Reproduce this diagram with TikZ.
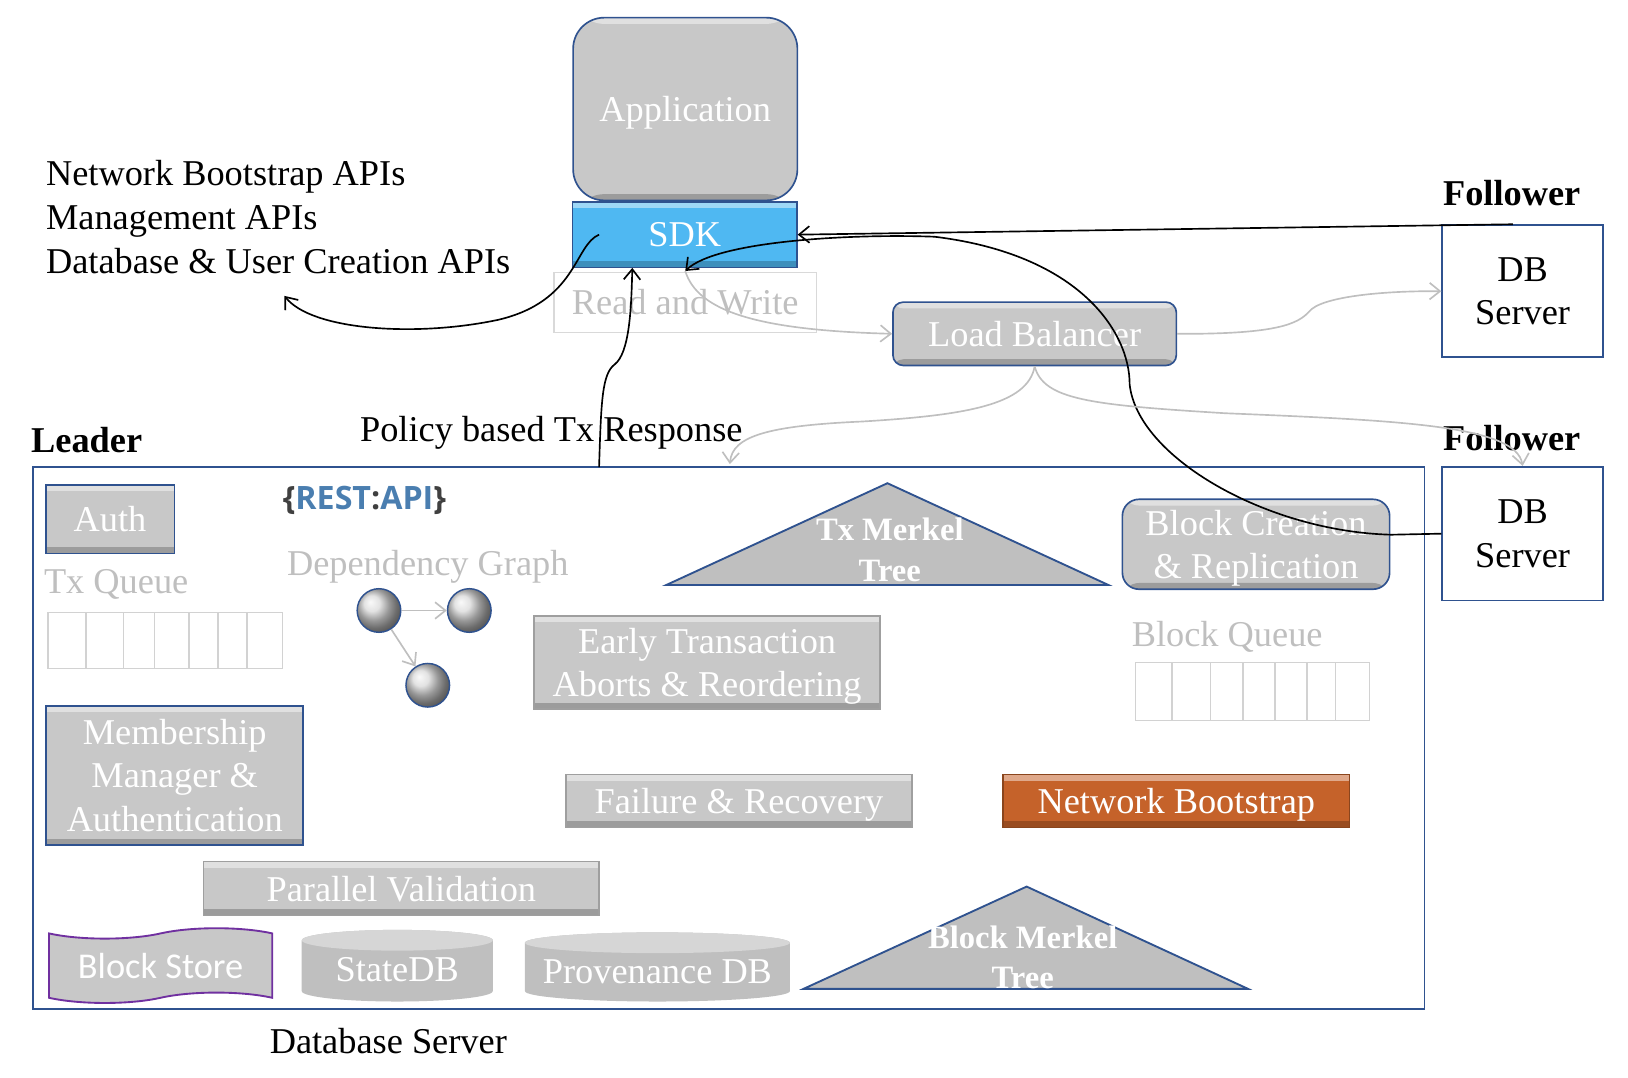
\documentclass[tikz,border=0pt]{standalone}
\usepackage{fontspec}
\setmainfont{Liberation Serif}
\newfontfamily\calfont{Carlito}
\newfontfamily\restfont{Open Sans}
\usepackage{xcolor}
\usepackage{tikz}
\usetikzlibrary{calc}
\usetikzlibrary{arrows.meta}
\usetikzlibrary{shapes}
\usetikzlibrary{shapes.geometric}
\usetikzlibrary{shapes.symbols}

\definecolor{boxgray}{HTML}{C8C8C8}
\definecolor{edgeblue}{HTML}{2F528F}
\definecolor{sdkblue}{HTML}{4FB8F2}
\definecolor{nborange}{HTML}{C5622A}
\definecolor{fadegray}{HTML}{BFBFBF}
\definecolor{storepurple}{HTML}{7030A0}
\definecolor{restblue}{HTML}{4A7EB0}

\begin{document}
\begin{tikzpicture}[x=0.5pt, y=-0.5pt, font=\fontsize{17.5}{21}\selectfont,
  bevel/.style={path picture={
    \fill[white, opacity=0.45] (path picture bounding box.north west) rectangle ([yshift=-3pt]path picture bounding box.north east);
    \fill[black, opacity=0.22] (path picture bounding box.south west) rectangle ([yshift=3pt]path picture bounding box.south east);}},
  graybox/.style={rectangle, bevel, fill=boxgray, draw=gray!75, line width=0.8pt, text=white, align=center, inner sep=0pt, text depth=0pt},
  bluebox/.style={graybox, draw=edgeblue},
  roundbox/.style={bluebox, rounded corners=5pt},
  dbbox/.style={rectangle, draw=edgeblue, line width=0.8pt, align=center, inner sep=0pt},
  heading/.style={font=\fontsize{17.5}{21}\selectfont\bfseries},
  fadetext/.style={text=fadegray},
  queuecell/.style={draw=gray!35, line width=0.7pt},
  link/.style={line width=0.8pt, -{Straight Barb[length=5pt,width=8pt]}},
  fadelink/.style={draw=fadegray, line width=0.8pt, -{Straight Barb[length=5pt,width=8pt]}},
  merkle/.style={fill=fadegray, draw=edgeblue, line width=0.9pt},
  merkletext/.style={text=white, font=\fontsize{15.7}{19.5}\selectfont\bfseries, align=center},
  vertex/.style={circle, shading=ball, ball color=gray!30, draw=edgeblue, line width=0.7pt, minimum size=21pt, inner sep=0pt},
  drumbody/.style={fill=gray!50},
  drumtop/.style={fill=gray!32},
  drumtext/.style={text=white, inner sep=0pt}]
\useasboundingbox (0,0) rectangle (1568,1038);

% client side
\node [roundbox, rounded corners=15pt, minimum width=108pt, minimum height=88pt] (app) at (660,105) {Application};
\node [bluebox, fill=sdkblue, minimum width=108pt, minimum height=31.5pt] (sdk) at (659.5,226) {SDK};
\node [rectangle, draw=gray!30, line width=0.7pt, fadetext, minimum width=126.5pt, minimum height=29pt] (rw) at (660,291.5) {Read and Write};
\node [roundbox, minimum width=136.5pt, minimum height=30.5pt] (lb) at (996.5,321.5) {Load Balancer};
\node [align=left, anchor=west, inner sep=0pt] (apis) at (44,209) {Network Bootstrap APIs\\Management APIs\\Database \& User Creation APIs};

% followers
\node [heading] (fol1) at (1456,186) {Follower};
\node [dbbox, minimum width=77.5pt, minimum height=63.6pt] (db1) at (1466.5,280.5) {DB\\Server};
\node [heading] (fol2) at (1456,422) {Follower};
\node [dbbox, minimum width=77.5pt, minimum height=64.5pt] (db2) at (1466.5,514) {DB\\Server};

% leader
\node [heading] (leader) at (83.5,424) {Leader};
\node (policy) at (531,417) {Policy based Tx Response};
\node [rectangle, draw=edgeblue, line width=0.8pt, minimum width=670pt, minimum height=261pt] (dbs) at (702,711) {};
\node (dbslabel) at (374,1003) {Database Server};

\node [bluebox, minimum width=62pt, minimum height=33pt] (auth) at (106,500) {Auth};
\node [fadetext, anchor=west, inner sep=0pt] (txq) at (42,563) {Tx Queue};
\node [rectangle, queuecell, minimum width=113pt, minimum height=27pt] (txcells) at (159.3,617) {};
\foreach \x in {83,119,149,182,210,238}
  \draw [queuecell] (\x,590) -- (\x,644);

\node [inner sep=0pt, font=\restfont\bfseries\fontsize{15.5}{19}\selectfont] (rest) at (351,481.5) {\textcolor{black!75}{\{}\textcolor{restblue}{REST}\textcolor{black!75}{:}\textcolor{restblue}{API}\textcolor{black!75}{\}}};
\node [fadetext] (depg) at (412,545.7) {Dependency Graph};
\node [vertex] (g1) at (365,588) {};
\node [vertex] (g2) at (452,588) {};
\node [vertex] (g3) at (412,660) {};
\draw [fadelink] (g1) -- (g2);
\draw [fadelink] (g1) -- (g3);

\draw [merkle] (854.7,465.4) -- (1067.5,563.4) -- (641.8,563.4) -- cycle;
\node [merkletext] (txtree) at (857,529.5) {Tx Merkel\\Tree};
\node [roundbox, rounded corners=8pt, minimum width=128.7pt, minimum height=43.3pt] (bcr) at (1209.7,524.2) {Block Creation\\\& Replication};

\node [graybox, minimum width=166.5pt, minimum height=44.9pt] (etar) at (681,638) {Early Transaction\\Aborts \& Reordering};
\node [fadetext, anchor=west, inner sep=0pt] (bq) at (1089.7,613) {Block Queue};
\node [rectangle, queuecell, minimum width=112.7pt, minimum height=28pt] (bqcells) at (1206.2,666) {};
\foreach \x in {1129,1166,1197,1228,1259,1286}
  \draw [queuecell] (\x,638) -- (\x,694);

\node [bluebox, minimum width=123.7pt, minimum height=67pt] (mma) at (168.3,746.7) {Membership\\Manager \&\\Authentication};
\node [graybox, minimum width=166.7pt, minimum height=25.6pt] (fr) at (711.7,771.4) {Failure \& Recovery};
\node [graybox, fill=nborange, draw=nborange!70!black, minimum width=166.7pt, minimum height=25.6pt] (nb) at (1133,771.4) {Network Bootstrap};
\node [graybox, minimum width=190.5pt, minimum height=26pt] (pv) at (386.5,855.8) {Parallel Validation};

% stores
\node [tape, fill=boxgray, draw=storepurple, line width=0.9pt, text=white, font=\calfont\fontsize{17.5}{21}\selectfont, minimum width=107.5pt, minimum height=36pt, inner sep=0pt] (bs) at (154.7,930) {Block Store};
\fill [drumbody] (290.6,905.6) -- (290.6,954.6) arc [start angle=180, end angle=360, x radius=46pt, y radius=5pt] -- (474.7,905.6) arc [start angle=0, end angle=180, x radius=46pt, y radius=5pt] -- cycle;
\fill [drumtop] (382.65,905.6) ellipse [x radius=46pt, y radius=5pt];
\node [drumtext] (sdb) at (382.6,934) {StateDB};
\fill [drumbody] (505.6,908) -- (505.6,954.6) arc [start angle=180, end angle=360, x radius=63.8pt, y radius=5pt] -- (760.8,908) arc [start angle=0, end angle=180, x radius=63.8pt, y radius=5pt] -- cycle;
\fill [drumtop] (633.2,908) ellipse [x radius=63.8pt, y radius=5pt];
\node [drumtext] (pdb) at (633.2,935.7) {Provenance DB};

\draw [merkle] (988.8,853.9) -- (1202,952.4) -- (773.9,952.4) -- cycle;
\node [merkletext] (blocktree) at (985,922) {Block Merkel\\Tree};

% connectors
\coordinate (sdkin) at (577,226);
\coordinate (apiend) at (274,285);
\coordinate (polstart) at (577,450);
\coordinate (sdkbase) at (609,258);
\coordinate (sdkmid) at (660,261);
\coordinate (fol1foot) at (1457,216);
\coordinate (lbleft) at (703,447);

\draw [link] (sdkin) .. controls (553,236) and (556,290) .. (480,308) .. controls (400,325) and (300,318) .. (apiend);
\draw [link] (polstart) .. controls (579,385) and (580,360) .. (592,351) .. controls (606,340) and (608,300) .. (sdkbase);
\draw [link] (fol1foot) -- (sdk.east);
\draw [link] (db2.west) -- (1340,515) .. controls (1220,512) and (1095,440) .. (1088,370) .. controls (1088,320) and (1040,245) .. (900,228) .. controls (820,225) and (690,232) .. (sdkmid);

\draw [fadelink] (sdkmid) .. controls (672,300) and (730,318) .. (lb.west);
\draw [fadelink] (lb.east) .. controls (1230,322) and (1250,312) .. (1261,300) .. controls (1272,286) and (1330,280) .. (db1.west);
\draw [fadelink] (lb.south) .. controls (990,390) and (930,400) .. (830,406) .. controls (740,410) and (705,420) .. (lbleft);
\draw [fadelink] (lb.south) .. controls (1005,385) and (1050,390) .. (1180,398) .. controls (1350,405) and (1460,410) .. (db2.north);
\end{tikzpicture}
\end{document}
